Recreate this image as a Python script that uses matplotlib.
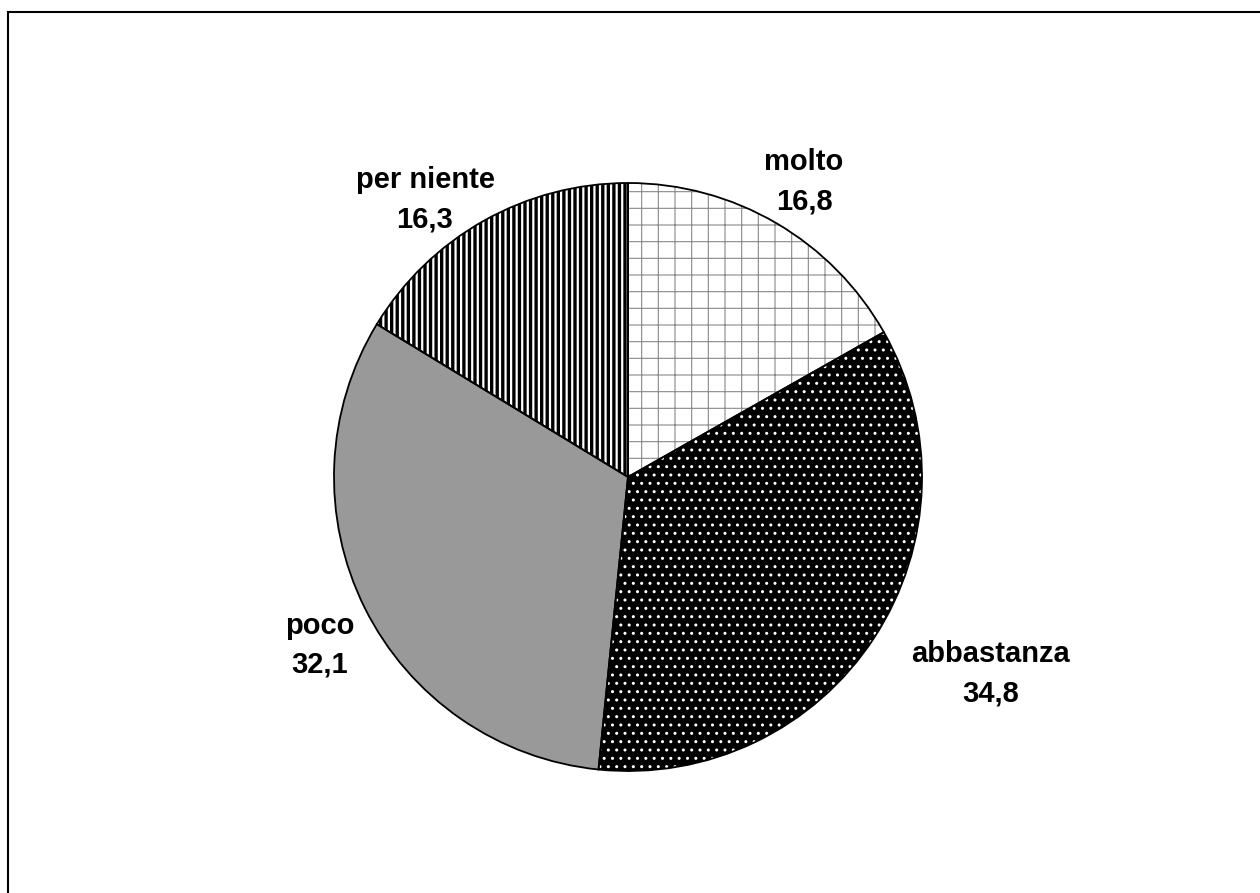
import matplotlib
matplotlib.use("Agg")
import matplotlib.pyplot as plt
from matplotlib.patches import Rectangle

# data
categories = ["molto", "abbastanza", "poco", "per niente"]
values = [16.8, 34.8, 32.1, 16.3]
value_labels = ["16,8", "34,8", "32,1", "16,3"]

# styling
face_colors = ["white", "black", "#999999", "white"]
hatches = ["+", "..", None, "|||"]
hatch_colors = ["#8a8a8a", "white", "#999999", "black"]
hatch_widths = [0.8, 1.0, 1.0, 2.4]

# layout in pixel space (figure 1260x893, y up)
W, H = 1260, 893
center = (628, H - 477)
radius = 294
label_xy = [(804, H - 182), (991, H - 674), (320, H - 645), (425, H - 200)]

plt.rcParams["font.family"] = ["Liberation Sans", "DejaVu Sans"]

fig = plt.figure(figsize=(12.6, 8.93), dpi=100)
ax = fig.add_axes([0, 0, 1, 1])

# filled wedges with hatching (hatch colour comes from edgecolor)
wedges, _ = ax.pie(values, startangle=90, counterclock=False,
                   center=center, radius=radius,
                   wedgeprops=dict(linewidth=0))
for w, fc, h, hc, hw in zip(wedges, face_colors, hatches, hatch_colors, hatch_widths):
    w.set_facecolor(fc)
    w.set_edgecolor(hc)
    if h:
        w.set_hatch(h)
        if hasattr(w, "set_hatch_linewidth"):
            w.set_hatch_linewidth(hw)
        w._hatch_linewidth = hw

# outlines on top
ax.pie(values, startangle=90, counterclock=False,
       center=center, radius=radius,
       wedgeprops=dict(facecolor="none", edgecolor="black", linewidth=1.3))

for (x, y), cat, val in zip(label_xy, categories, value_labels):
    ax.text(x, y, f"{cat}\n{val}", ha="center", va="center",
            fontsize=21, fontweight="bold", linespacing=1.5)

# outer frame (right and bottom run off the picture)
ax.add_patch(Rectangle((8, -20), W + 20, H - 12 + 20, fill=False,
                       edgecolor="black", linewidth=1.5, clip_on=False))

ax.set_xlim(0, W)
ax.set_ylim(0, H)
ax.set_aspect("equal")
ax.axis("off")

fig.savefig("out.png", dpi=100)
